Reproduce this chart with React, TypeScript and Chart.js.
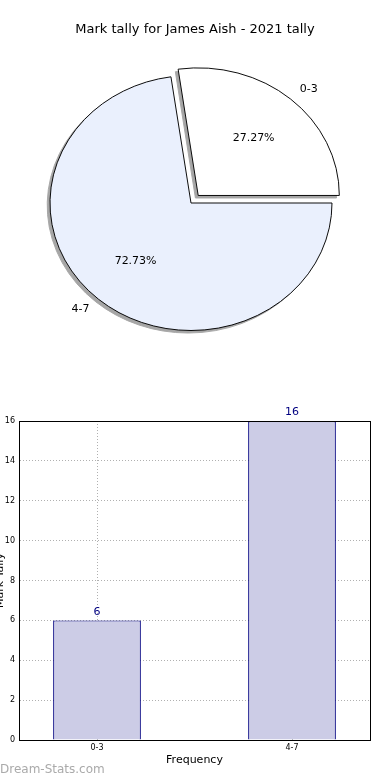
import React, { useEffect, useRef } from "react";
import { Chart, registerables } from "chart.js";

Chart.register(...registerables);

// ---------- data ----------
const pieTitle = "Mark tally for James Aish - 2021 tally";
const pieLabels = ["0-3", "4-7"];
const pieValues = [6, 16];
const pieColors = ["#ffffff", "#eaf0fd"];
const pieExplode = [44, 0];

const barCategories = ["0-3", "4-7"];
const barValues = [6, 16];
const yTickValues = [0, 2, 4, 6, 8, 10, 12, 14, 16];
const xTitle = "Frequency";
const yTitle = "Mark Tally";
const watermark = "Dream-Stats.com";

const FONT = "'DejaVu Sans', sans-serif";
const ELLIPSE = 127.5 / 141;
const SHADOW = "#a6a6a6";

function PieChart() {
  const ref = useRef<HTMLCanvasElement | null>(null);
  useEffect(() => {
    const canvas = ref.current!;
    const total = pieValues.reduce((a, b) => a + b, 0);
    const plugin = {
      id: "pieDecor",
      beforeDatasetsDraw(chart: any) {
        const ctx = chart.ctx;
        const { left, right, top, bottom } = chart.chartArea;
        const cx = (left + right) / 2;
        const cy = (top + bottom) / 2;
        ctx.save();
        ctx.translate(cx, cy);
        ctx.scale(1, ELLIPSE);
        ctx.translate(-cx, -cy);
        const meta = chart.getDatasetMeta(0);
        meta.data.forEach((arc: any) => {
          const copy = Object.assign(Object.create(Object.getPrototypeOf(arc)), arc);
          copy.options = Object.assign({}, arc.options, {
            backgroundColor: SHADOW,
            borderColor: SHADOW,
          });
          ctx.save();
          ctx.translate(-2.8, 2.8);
          copy.draw(ctx);
          ctx.restore();
        });
      },
      afterDatasetsDraw(chart: any) {
        const ctx = chart.ctx;
        ctx.restore();
        const { top, bottom } = chart.chartArea;
        const cy = (top + bottom) / 2;
        const meta = chart.getDatasetMeta(0);
        ctx.save();
        ctx.fillStyle = "#000";
        ctx.font = `11px ${FONT}`;
        ctx.textBaseline = "middle";
        meta.data.forEach((arc: any, i: number) => {
          const mid = (arc.startAngle + arc.endAngle) / 2;
          const off = pieExplode[i] / 4;
          const ox = arc.x + Math.cos(mid) * off;
          const oy = arc.y + Math.sin(mid) * off;
          const r = arc.outerRadius;
          const c = Math.cos(mid);
          const s = Math.sin(mid);
          const lx = ox + c * r * 1.1;
          const ly = cy + (oy + s * r * 1.1 - cy) * ELLIPSE;
          ctx.textAlign = c >= 0 ? "left" : "right";
          ctx.fillText(pieLabels[i], lx, ly);
          const px = ox + c * r * 0.6;
          const py = cy + (oy + s * r * 0.6 - cy) * ELLIPSE;
          ctx.textAlign = "center";
          ctx.fillText(((pieValues[i] / total) * 100).toFixed(2) + "%", px, py);
        });
        ctx.font = `13px ${FONT}`;
        ctx.textAlign = "center";
        ctx.fillText(pieTitle, 195, 30);
        ctx.restore();
      },
    };
    const chart = new Chart(canvas, {
      type: "pie",
      data: {
        labels: pieLabels,
        datasets: [
          {
            data: pieValues,
            backgroundColor: pieColors,
            borderColor: "#000",
            borderWidth: 1,
            offset: pieExplode,
            clip: false,
          } as any,
        ],
      },
      options: {
        responsive: false,
        animation: false,
        devicePixelRatio: 1,
        radius: 141,
        rotation: 90 - (360 * pieValues[0]) / total,
        layout: { padding: { left: 0, right: 8, top: 16, bottom: 0 } },
        plugins: { legend: { display: false }, tooltip: { enabled: false }, title: { display: false } },
        events: [],
      } as any,
      plugins: [plugin],
    });
    return () => chart.destroy();
  }, []);
  return <canvas ref={ref} width={390} height={390} style={{ display: "block", width: 390, height: 390 }} />;
}

function BarChart() {
  const ref = useRef<HTMLCanvasElement | null>(null);
  useEffect(() => {
    const canvas = ref.current!;
    const plugin = {
      id: "barDecor",
      afterDatasetsDraw(chart: any) {
        const ctx = chart.ctx;
        const meta = chart.getDatasetMeta(0);
        ctx.save();
        ctx.fillStyle = "#000080";
        ctx.font = `11px ${FONT}`;
        ctx.textAlign = "center";
        ctx.textBaseline = "bottom";
        meta.data.forEach((bar: any, i: number) => {
          ctx.fillText(String(barValues[i]), bar.x, bar.y - 3);
        });
        ctx.restore();
      },
      afterDraw(chart: any) {
        const ctx = chart.ctx;
        const { left, right, top, bottom } = chart.chartArea;
        ctx.save();
        ctx.strokeStyle = "#000";
        ctx.lineWidth = 1;
        ctx.strokeRect(left + 0.5, top + 0.5, right - left, bottom - top);
        ctx.translate(0, (top + bottom) / 2);
        ctx.rotate(-Math.PI / 2);
        ctx.fillStyle = "#000";
        ctx.font = `11px ${FONT}`;
        ctx.textAlign = "center";
        ctx.textBaseline = "middle";
        ctx.fillText(yTitle, 0, 0);
        ctx.restore();
      },
    };
    const chart = new Chart(canvas, {
      type: "bar",
      data: {
        datasets: [
          {
            data: barValues.map((v, i) => ({ x: i, y: v })),
            backgroundColor: "#ccccE6",
            borderColor: "#000080",
            borderWidth: 1.2,
            categoryPercentage: 1,
            barPercentage: 0.45,
          } as any,
        ],
      },
      options: {
        responsive: false,
        animation: false,
        devicePixelRatio: 1,
        events: [],
        layout: { padding: { left: 0, right: 20, top: 31, bottom: 0 } },
        plugins: { legend: { display: false }, tooltip: { enabled: false } },
        scales: {
          x: {
            type: "linear",
            min: -0.4,
            max: 1.4,
            offset: false,
            z: 1,
            afterBuildTicks: (s: any) => {
              s.ticks = barCategories.map((_, i) => ({ value: i }));
            },
            afterFit: (s: any) => {
              s.height = 40;
            },
            ticks: {
              callback: (v: any) => barCategories[v] ?? "",
              font: { family: FONT, size: 8 },
              color: "#000",
              padding: 3,
              maxRotation: 0,
            },
            grid: { color: "#b0b0b0", tickLength: 0, drawTicks: false, offset: false },
            border: { color: "#000", width: 1, dash: [1, 2] },
            title: {
              display: true,
              text: xTitle,
              font: { family: FONT, size: 11 },
              color: "#000",
              padding: { top: 0, bottom: 13 },
            },
          },
          y: {
            min: 0,
            max: 16,
            z: 1,
            afterBuildTicks: (s: any) => {
              s.ticks = yTickValues.map((v) => ({ value: v }));
            },
            afterFit: (s: any) => {
              s.width = 19;
            },
            ticks: {
              font: { family: FONT, size: 8 },
              color: "#000",
              padding: 4,
            },
            grid: { color: "#b0b0b0", tickLength: 0, drawTicks: false },
            border: { color: "#000", width: 1, dash: [1, 2] },
          },
        },
      } as any,
      plugins: [plugin],
    });
    return () => chart.destroy();
  }, []);
  return <canvas ref={ref} width={390} height={390} style={{ display: "block", width: 390, height: 390 }} />;
}

export default function App() {
  return (
    <div style={{ position: "absolute", left: 0, top: 0, width: 390, height: 780, background: "#fff", overflow: "hidden" }}>
      <PieChart />
      <BarChart />
      <div
        style={{
          position: "absolute",
          left: 0,
          top: 762,
          fontFamily: FONT,
          fontSize: 12,
          color: "#aaaaaa",
          lineHeight: "14px",
        }}
      >
        {watermark}
      </div>
    </div>
  );
}
